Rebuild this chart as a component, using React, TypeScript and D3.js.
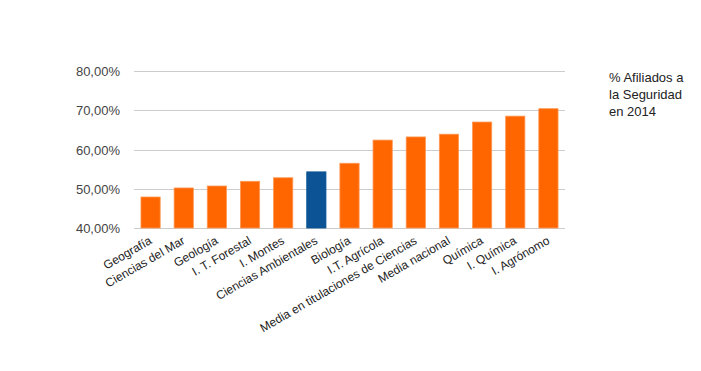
import { useEffect, useRef } from "react";
import * as d3 from "d3";

const categories = [
  "Geografía",
  "Ciencias del Mar",
  "Geología",
  "I. T. Forestal",
  "I. Montes",
  "Ciencias Ambientales",
  "Biología",
  "I.T. Agrícola",
  "Media en titulaciones de Ciencias",
  "Media nacional",
  "Química",
  "I. Química",
  "I. Agrónomo",
];
const values = [47.9, 50.2, 50.7, 51.9, 52.8, 54.3, 56.5, 62.4, 63.2, 63.9, 67.0, 68.5, 70.4];
const highlighted = "Ciencias Ambientales";
const yTicks = [40, 50, 60, 70, 80];
const legendLines = ["% Afiliados a", "la Seguridad", "en 2014"];

export default function App() {
  const ref = useRef<SVGSVGElement>(null);

  useEffect(() => {
    const width = 701;
    const height = 371;
    const margin = { top: 71, right: 136, bottom: 143, left: 134 };

    const svg = d3.select(ref.current);
    svg.selectAll("*").remove();

    const x = d3
      .scaleBand()
      .domain(categories)
      .range([margin.left, width - margin.right])
      .paddingInner(0.42)
      .paddingOuter(0.21);
    const y = d3
      .scaleLinear()
      .domain([40, 80])
      .range([height - margin.bottom, margin.top]);

    const font = "Arial, 'Liberation Sans', sans-serif";

    svg
      .append("g")
      .selectAll("line")
      .data(yTicks)
      .join("line")
      .attr("x1", margin.left)
      .attr("x2", width - margin.right)
      .attr("y1", (d) => Math.round(y(d)) + 0.5)
      .attr("y2", (d) => Math.round(y(d)) + 0.5)
      .attr("stroke", "#cccccc");

    svg
      .append("g")
      .selectAll("text")
      .data(yTicks)
      .join("text")
      .attr("x", 120)
      .attr("y", (d) => y(d) + 5)
      .attr("text-anchor", "end")
      .attr("font-family", font)
      .attr("font-size", 13)
      .attr("fill", "#444444")
      .text((d) => d3.format(".2f")(d).replace(".", ",") + "%");

    svg
      .append("g")
      .selectAll("rect")
      .data(categories)
      .join("rect")
      .attr("x", (d) => x(d)!)
      .attr("width", x.bandwidth())
      .attr("y", (d, i) => y(values[i]))
      .attr("height", (d, i) => y(40) - y(values[i]))
      .attr("fill", (d) => (d === highlighted ? "#0b5394" : "#ff6600"))
      .attr("stroke", (d) => (d === highlighted ? "#0b5394" : "#ff9955"))
      .attr("stroke-width", 0.8);

    svg
      .append("g")
      .selectAll("text")
      .data(categories)
      .join("text")
      .attr(
        "transform",
        (d) => `translate(${x(d)! + x.bandwidth() / 2 + 2},${y(40) + 15}) rotate(-30)`
      )
      .attr("text-anchor", "end")
      .attr("font-family", font)
      .attr("font-size", 12)
      .attr("fill", "#222222")
      .text((d) => d);

    svg
      .append("g")
      .selectAll("text")
      .data(legendLines)
      .join("text")
      .attr("x", 609)
      .attr("y", (d, i) => 82 + i * 17)
      .attr("font-family", font)
      .attr("font-size", 13)
      .attr("fill", "#222222")
      .text((d) => d);
  }, []);

  return (
    <div style={{ position: "fixed", left: 0, top: 0, background: "#fff" }}>
      <svg ref={ref} width={701} height={371} style={{ display: "block" }} />
    </div>
  );
}
